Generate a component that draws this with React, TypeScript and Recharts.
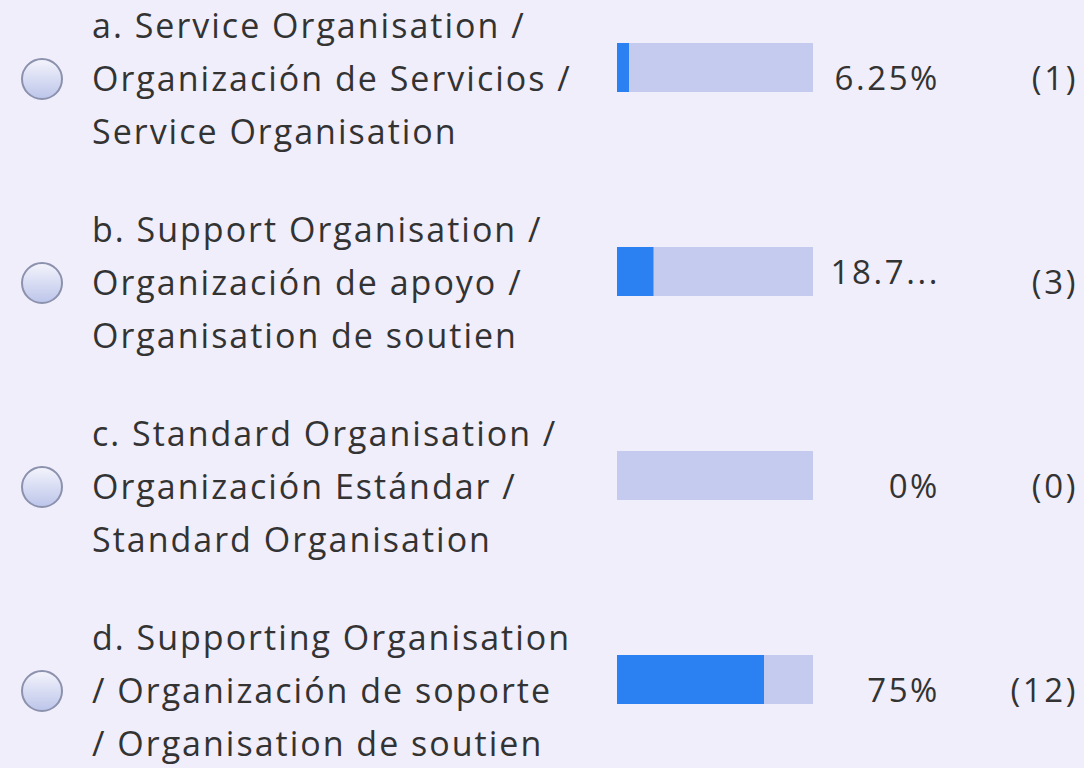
import { BarChart, Bar, XAxis, YAxis } from "recharts";

// survey options, each label wrapped in three lines like the original form
const optionKeys = ["a", "b", "c", "d"];
const optionLines = [
  ["a. Service Organisation /", "Organización de Servicios /", "Service Organisation"],
  ["b. Support Organisation /", "Organización de apoyo /", "Organisation de soutien"],
  ["c. Standard Organisation /", "Organización Estándar /", "Standard Organisation"],
  ["d. Supporting Organisation", "/ Organización de soporte", "/ Organisation de soutien"],
];
const percentValues = [6.25, 18.75, 0, 75];
const percentLabels = ["6.25%", "18.7...", "0%", "75%"];
const responseCounts = [1, 3, 0, 12];

// the grey track is the rest of the 100%
const data = optionKeys.map((k, i) => ({
  name: k,
  pct: percentValues[i],
  rest: 100 - percentValues[i],
}));

const FONT = "'Open Sans', Lato, sans-serif";
const TEXT = "#333333";

const OptionTick = (props: any) => {
  const { y, index } = props;
  const lines = optionLines[index] ?? [];
  const mid = y + 12;
  return (
    <g>
      <defs>
        <linearGradient id={`radio-${index}`} x1="0" y1="0" x2="0" y2="1">
          <stop offset="0%" stopColor="#f4f4fc" />
          <stop offset="100%" stopColor="#bcc5ea" />
        </linearGradient>
      </defs>
      <circle cx={42} cy={mid} r={20} fill={`url(#radio-${index})`} stroke="#8c92ad" strokeWidth={2} />
      {lines.map((line, i) => (
        <text
          key={i}
          x={92}
          y={mid + (i - 1) * 53}
          dy="0.35em"
          fontFamily={FONT}
          fontSize={34}
          letterSpacing={2}
          fill={TEXT}
        >
          {line}
        </text>
      ))}
    </g>
  );
};

const ResultTick = (props: any) => {
  const { y, index } = props;
  const label = percentLabels[index] ?? "";
  // the truncated label sits on the bar centre instead of the text line
  const py = label.endsWith("...") ? y + 1 : y + 11;
  return (
    <g fontFamily={FONT} fontSize={33} fill={TEXT} letterSpacing={2.6}>
      <text x={940} y={py} dy="0.35em" textAnchor="end">
        {label}
      </text>
      <text x={1078} y={y + 11} dy="0.35em" textAnchor="end">
        ({responseCounts[index]})
      </text>
    </g>
  );
};

export default function App() {
  return (
    <div
      style={{
        position: "absolute",
        left: 0,
        top: 0,
        width: 1084,
        height: 768,
        overflow: "hidden",
        background: "#f0eefa",
      }}
    >
      <div style={{ position: "absolute", left: 0, top: -35 }}>
        <BarChart
          width={1084}
          height={816}
          data={data}
          layout="vertical"
          margin={{ top: 0, right: 0, bottom: 0, left: 0 }}
        >
          <XAxis type="number" domain={[0, 100]} hide />
          <YAxis
            yAxisId="left"
            type="category"
            dataKey="name"
            width={617}
            axisLine={false}
            tickLine={false}
            tick={<OptionTick />}
          />
          <YAxis
            yAxisId="right"
            orientation="right"
            type="category"
            dataKey="name"
            width={271}
            axisLine={false}
            tickLine={false}
            tick={<ResultTick />}
          />
          <Bar
            yAxisId="left"
            dataKey="pct"
            stackId="s"
            fill="#2b80f2"
            barSize={49}
            isAnimationActive={false}
          />
          <Bar
            yAxisId="left"
            dataKey="rest"
            stackId="s"
            fill="#c5cbee"
            barSize={49}
            isAnimationActive={false}
          />
        </BarChart>
      </div>
    </div>
  );
}
